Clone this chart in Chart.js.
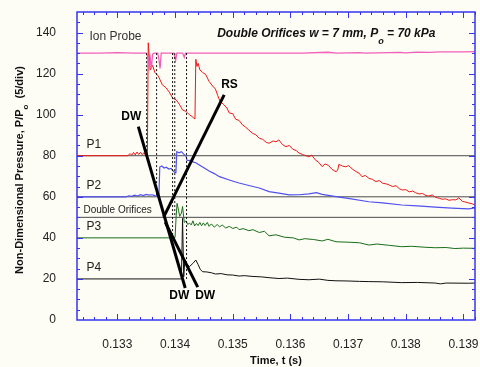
<!DOCTYPE html>
<html>
<head>
<meta charset="utf-8">
<script src="https://cdn.jsdelivr.net/npm/chart.js@4.4.1/dist/chart.umd.min.js"></script>
<style>
  html, body { margin: 0; padding: 0; background: #fdfdf6; }
  canvas { display: block; }
</style>
</head>
<body>
<canvas id="pressure-chart" width="480" height="367"></canvas>
<script>
// axis range and tick labels
const tMin = 0.1323, tMax = 0.1392;
const pMin = 0, pMax = 150;
const xTickValues = [0.133, 0.134, 0.135, 0.136, 0.137, 0.138, 0.139];
const yTickValues = [0, 20, 40, 60, 80, 100, 120, 140];

// ion probe trace (pink)
const ionT = [0.1323, 0.1327, 0.1330, 0.1333, 0.1335, 0.13353, 0.13355, 0.13357, 0.13359, 0.13361, 0.13364,
  0.1337, 0.13372, 0.13374, 0.13376, 0.13398, 0.13401, 0.13403, 0.13413, 0.13416, 0.13418, 0.1350, 0.1362,
  0.13665, 0.1368, 0.1372, 0.1373, 0.1379, 0.1380, 0.1382, 0.1384, 0.1386, 0.1390, 0.1392];
const ionP = [130, 130, 130.2, 130, 130, 128, 123, 127.5, 122.5, 129.5, 130,
  130, 127, 122.5, 130, 130, 126.5, 130, 130, 128, 130, 130, 130,
  130.4, 130, 130.2, 130, 130.3, 130.1, 130.5, 130.3, 130.6, 130.6, 130.7];

// P1 (red)
const p1T = [0.1323, 0.1330, 0.13318, 0.13322, 0.13325, 0.13328, 0.13331, 0.13334, 0.13337, 0.1334, 0.13343,
  0.13346, 0.13349, 0.13352, 0.133535, 0.13357, 0.13361, 0.13365, 0.13371, 0.13378, 0.13384, 0.1339, 0.13396,
  0.13402, 0.13408, 0.13413, 0.13419, 0.13425, 0.13429, 0.13433, 0.134345, 0.13436, 0.13438, 0.1344, 0.13443,
  0.13448, 0.13453, 0.13459, 0.13465, 0.1347, 0.13474, 0.13478, 0.13484, 0.1349, 0.13494, 0.135, 0.13505,
  0.13511, 0.13517, 0.13522, 0.13528, 0.13534, 0.1354, 0.13546, 0.13552, 0.13558, 0.13563, 0.1357, 0.13575,
  0.1358, 0.13586, 0.13592, 0.13598, 0.13604, 0.1361, 0.13615, 0.13621, 0.13627, 0.13632, 0.13637, 0.13643,
  0.13649, 0.13655, 0.1366, 0.13666, 0.13672, 0.13679, 0.13682, 0.13684, 0.1369, 0.13696, 0.13701, 0.13707,
  0.13713, 0.13719, 0.13724, 0.1373, 0.13736, 0.13742, 0.13748, 0.13754, 0.1376, 0.13766, 0.13771, 0.13777,
  0.13783, 0.13789, 0.13794, 0.138, 0.13806, 0.13812, 0.13817, 0.13823, 0.13829, 0.13835, 0.1384, 0.13846,
  0.13852, 0.13858, 0.13863, 0.13869, 0.13875, 0.13881, 0.13887, 0.13892, 0.13898, 0.13904, 0.13909, 0.13915, 0.1392];
const p1P = [80, 80, 80, 81, 80.3, 81.6, 80.4, 81.8, 80.6, 81.7, 80.5,
  81.5, 80.2, 80, 135, 121.8, 124, 120.6, 118.8, 114.5, 113.2, 111, 108,
  107.2, 104.8, 102.3, 101.6, 99.9, 99.2, 98.2, 98, 127, 123.5, 125, 121.8,
  120.5, 119.6, 116.2, 114, 112.5, 109.3, 106.5, 105, 103.2, 100.8, 100.5, 97.8,
  97.2, 95, 94, 92.5, 91, 90.2, 88.5, 88, 86.5, 86.1, 87.2, 86.8,
  87.7, 85.5, 84.4, 85, 83.2, 82.5, 81.3, 80.6, 80, 79.5, 80.3, 78,
  76.8, 74.7, 76, 75.3, 73.4, 72.2, 73, 75.8, 75, 74.6, 75.2, 73.6,
  72.4, 71.5, 69.8, 70.4, 69, 68.5, 67.4, 67.9, 66.6, 66.3, 65.8, 65,
  65.4, 63.9, 63.3, 63.5, 62.4, 62.8, 62, 61.4, 61.6, 60.6, 60.4, 60.9,
  59.7, 59.3, 58.8, 59, 58.3, 58.6, 58.5, 59.5, 57.8, 57.4, 57, 56.6, 56];

// P2 (blue)
const p2T = [0.1323, 0.13315, 0.1332, 0.13325, 0.1333, 0.13335, 0.1334, 0.13345, 0.1335, 0.13355, 0.1336,
  0.13365, 0.13372, 0.133735, 0.13377, 0.13381, 0.13385, 0.13389, 0.13393, 0.13397, 0.134, 0.134015, 0.13403,
  0.13407, 0.13411, 0.13415, 0.13419, 0.13421, 0.13426, 0.13432, 0.13436, 0.13442, 0.1345, 0.13459, 0.13468,
  0.13477, 0.13494, 0.13511, 0.13528, 0.13546, 0.13563, 0.1358, 0.13598, 0.13615, 0.13632, 0.13645, 0.13655,
  0.13679, 0.137, 0.13736, 0.1376, 0.13793, 0.1382, 0.13851, 0.1388, 0.13909, 0.1392];
const p2P = [60, 60, 60.5, 60.2, 60.8, 60.4, 61, 60.6, 61.2, 60.8, 61,
  60.6, 60.2, 74.5, 75, 74, 74.4, 73.5, 73.8, 72.5, 71.8, 72, 82,
  81.4, 82, 80.8, 79.8, 77.6, 77.8, 76.9, 76.6, 75.5, 74.1, 72.6, 71.3,
  69.8, 68.2, 66.7, 65.5, 64.3, 62.5, 61.8, 60.9, 61, 61.4, 62, 61.2,
  60.1, 59.2, 57.6, 57, 56, 55.6, 55, 54.5, 54.1, 54.6];

// P3 (green)
const p3T = [0.1323, 0.13396, 0.134, 0.13402, 0.134035, 0.13406, 0.13408, 0.13411, 0.13413, 0.13416, 0.13419,
  0.13422, 0.13425, 0.13428, 0.13431, 0.13434, 0.13437, 0.1344, 0.13443, 0.13446, 0.13449, 0.13452, 0.13456,
  0.13459, 0.13463, 0.13468, 0.13473, 0.13477, 0.13482, 0.13488, 0.13494, 0.135, 0.13507, 0.13511, 0.13518,
  0.13528, 0.13535, 0.13546, 0.13555, 0.13563, 0.13575, 0.1359, 0.13605, 0.13615, 0.13625, 0.1364, 0.13655,
  0.13665, 0.13679, 0.137, 0.1372, 0.13736, 0.1375, 0.1377, 0.13793, 0.1381, 0.13835, 0.13851, 0.1387,
  0.13885, 0.139, 0.1392];
const p3P = [40, 40, 40.2, 51, 56.8, 53.5, 50.5, 52, 55.3, 47.5, 48.3,
  46.5, 47.2, 46.3, 48.3, 45.8, 47, 46, 47.5, 45.9, 47.3, 46, 47.5,
  45.6, 46.8, 45.2, 46.5, 45.4, 46.2, 44.8, 45.6, 44.6, 45.2, 44, 44.5,
  43.5, 44, 42.6, 43.2, 41, 41.5, 40.3, 40, 39, 39.6, 39.2, 38.5,
  39.3, 38.1, 37.9, 37.6, 36.5, 37, 36.4, 35.7, 35.9, 35.4, 35.2, 35.3,
  34.8, 35, 34.9];

// P4 (black)
const p4T = [0.1323, 0.13411, 0.13413, 0.13415, 0.13417, 0.1342, 0.13425, 0.13431, 0.13436, 0.1344, 0.13444,
  0.13448, 0.13455, 0.13463, 0.1347, 0.1348, 0.1349, 0.135, 0.13511, 0.1352, 0.13535, 0.1355, 0.13563,
  0.1358, 0.13595, 0.13615, 0.13632, 0.1365, 0.13665, 0.13679, 0.137, 0.1372, 0.13736, 0.1376, 0.13793,
  0.1382, 0.13851, 0.1386, 0.1387, 0.13909, 0.1392];
const p4P = [20, 20, 49.5, 21, 29.2, 27.5, 26, 27.6, 29.2, 27, 24.5,
  23.5, 23.4, 23, 22.4, 22.6, 22, 21.9, 21.4, 21.6, 21.2, 21, 20.6,
  20.2, 20.4, 19.8, 19.6, 19.9, 19.3, 19.1, 19, 18.8, 18.7, 18.6, 18.2,
  18.3, 18, 17.6, 18, 17.9, 18];

// gauge reference levels (P1, P2, double orifices)
const refLevels = [80, 60, 50];

// dashed arrival markers: time, top, bottom
const dashT = [0.133507, 0.13368, 0.133957, 0.133995, 0.134199];
const dashTop = [130, 130, 130, 130, 130];
const dashBottom = [80, 60, 40, 50, 20];

// wave paths
const dwUpperT = [0.133363, 0.134176];
const dwUpperP = [94.2, 15.6];
const rsT = [0.133804, 0.134851];
const rsP = [50.2, 109.6];
const dwLowerT = [0.13383, 0.134393];
const dwLowerP = [47.7, 16];

const FONT = "'Liberation Sans', Arial, sans-serif";
const BG = '#fdfdf6';
const AXIS_BLUE = '#3535f0';

function pts(ts, ps) {
  return ts.map((t, i) => ({ x: t, y: ps[i] }));
}

function line(label, data, color, width, order, dash) {
  return {
    label: label,
    data: data,
    borderColor: color,
    borderWidth: width,
    borderDash: dash || [],
    pointRadius: 0,
    tension: 0,
    fill: false,
    order: order
  };
}

const datasets = [];
datasets.push(line('DW upper', pts(dwUpperT, dwUpperP), '#000', 3, 0));
datasets.push(line('RS', pts(rsT, rsP), '#000', 3, 0));
datasets.push(line('DW lower', pts(dwLowerT, dwLowerP), '#000', 3, 0));
datasets.push(line('Ion Probe', pts(ionT, ionP), '#f25fb8', 1.3, 2));
datasets.push(line('P1', pts(p1T, p1P), '#f01818', 1, 2));
datasets.push(line('P2', pts(p2T, p2P), '#5050f0', 1.2, 2));
datasets.push(line('P3', pts(p3T, p3P), '#1a6e1a', 1, 2));
datasets.push(line('P4', pts(p4T, p4P), '#111111', 1, 2));
dashT.forEach((t, i) => {
  datasets.push(line('marker ' + i, pts([t, t], [dashTop[i], dashBottom[i]]), '#111', 1, 1, [2, 2]));
});
refLevels.forEach(p => {
  datasets.push(line('level ' + p, pts([tMin, tMax], [p, p]), '#4a4a4a', 1, 3));
});

function drawText(ctx, text, x, y, font, color, align) {
  ctx.font = font;
  ctx.fillStyle = color;
  ctx.textAlign = align || 'left';
  ctx.textBaseline = 'middle';
  ctx.fillText(text, x, y);
}

// no extra room for overhanging tick labels, plot box is fixed
function fixBox(s, size) {
  if (s.isHorizontal()) s.height = size; else s.width = size;
  s.paddingLeft = 0; s.paddingRight = 0;
  s.paddingTop = 0; s.paddingBottom = 0;
}

const decorPlugin = {
  id: 'decor',
  beforeDraw(chart) {
    const ctx = chart.ctx;
    ctx.save();
    ctx.fillStyle = BG;
    ctx.fillRect(0, 0, chart.width, chart.height);
    ctx.restore();
  },
  afterDatasetsDraw(chart) {
    const ctx = chart.ctx;
    const xs = chart.scales.x, ys = chart.scales.y;
    const X = t => xs.getPixelForValue(t);
    const Y = p => ys.getPixelForValue(p);
    ctx.save();
    const plain = '12px ' + FONT;
    drawText(ctx, 'Ion Probe', X(0.132516), Y(137.8), plain, '#333');
    drawText(ctx, 'P1', X(0.132464), Y(85.2), plain, '#222');
    drawText(ctx, 'P2', X(0.132464), Y(65.3), plain, '#222');
    drawText(ctx, 'Double Orifices', X(0.132412), Y(53.6), '10px ' + FONT, '#222');
    drawText(ctx, 'P3', X(0.132464), Y(45.3), plain, '#222');
    drawText(ctx, 'P4', X(0.132464), Y(25.3), plain, '#222');
    const bold = 'bold 12px ' + FONT;
    drawText(ctx, 'DW', X(0.133069), Y(98.9), bold, '#000');
    drawText(ctx, 'RS', X(0.134799), Y(114.5), bold, '#000');
    drawText(ctx, 'DW', X(0.1339), Y(11.7), bold, '#000');
    drawText(ctx, 'DW', X(0.134349), Y(11.7), bold, '#000');

    // title with subscript
    const bi = 'italic bold 12px ' + FONT;
    let x = X(0.13473);
    const y = Y(139.3);
    const part1 = 'Double Orifices w = 7 mm, P';
    ctx.font = bi;
    drawText(ctx, part1, x, y, bi, '#111');
    x += ctx.measureText(part1).width;
    drawText(ctx, 'o', x, y + 8, 'italic bold 9px ' + FONT, '#111');
    ctx.font = 'italic bold 9px ' + FONT;
    x += ctx.measureText('o').width;
    drawText(ctx, ' = 70 kPa', x, y, bi, '#111');
    ctx.restore();
  },
  afterDraw(chart) {
    const ctx = chart.ctx;
    const a = chart.chartArea;
    const xs = chart.scales.x, ys = chart.scales.y;
    ctx.save();
    ctx.strokeStyle = AXIS_BLUE;
    ctx.lineWidth = 1;
    ctx.beginPath();
    // inner ticks, x every 0.0002, y every 5
    for (let k = 1324; k <= 1392; k += 2) {
      const t = k / 10000;
      const px = Math.round(xs.getPixelForValue(t)) + 0.5;
      const len = (k % 10 === 0) ? 6 : 3;
      ctx.moveTo(px, a.bottom); ctx.lineTo(px, a.bottom - len);
      ctx.moveTo(px, a.top); ctx.lineTo(px, a.top + len);
    }
    for (let p = 5; p < pMax; p += 5) {
      const py = Math.round(ys.getPixelForValue(p)) + 0.5;
      const len = (p % 20 === 0) ? 6 : 3;
      ctx.moveTo(a.left, py); ctx.lineTo(a.left + len, py);
      ctx.moveTo(a.right, py); ctx.lineTo(a.right - len, py);
    }
    ctx.stroke();
    ctx.lineWidth = 1.5;
    ctx.strokeRect(a.left, a.top, a.right - a.left, a.bottom - a.top);

    // x axis title
    drawText(ctx, 'Time, t (s)', (a.left + a.right) / 2, 361, 'bold 11px ' + FONT, '#111', 'center');

    // y axis title with subscript
    ctx.translate(20, 170);
    ctx.rotate(-Math.PI / 2);
    const bf = 'bold 11px ' + FONT;
    const sf = 'bold 8px ' + FONT;
    const s1 = 'Non-Dimensional Pressure, P/P';
    const s2 = 'o';
    const s3 = '  (5/div)';
    ctx.font = bf;
    const w1 = ctx.measureText(s1).width;
    const w3 = ctx.measureText(s3).width;
    ctx.font = sf;
    const w2 = ctx.measureText(s2).width;
    let x = -(w1 + w2 + w3) / 2;
    drawText(ctx, s1, x, 0, bf, '#111');
    drawText(ctx, s2, x + w1, 6, sf, '#111');
    drawText(ctx, s3, x + w1 + w2, 0, bf, '#111');
    ctx.restore();
  }
};

new Chart(document.getElementById('pressure-chart'), {
  type: 'line',
  data: { datasets: datasets },
  options: {
    responsive: false,
    animation: false,
    devicePixelRatio: 1,
    layout: { padding: { top: 12, right: 5, left: 0, bottom: 0 } },
    plugins: {
      legend: { display: false },
      tooltip: { enabled: false }
    },
    scales: {
      x: {
        type: 'linear',
        min: tMin,
        max: tMax,
        grid: { display: false },
        border: { display: false },
        afterBuildTicks: s => { s.ticks = xTickValues.map(v => ({ value: v })); },
        afterFit: s => fixBox(s, 47),
        ticks: {
          padding: 9,
          color: '#222',
          font: { family: FONT, size: 12 },
          maxRotation: 0,
          callback: v => v.toFixed(3)
        }
      },
      y: {
        min: pMin,
        max: pMax,
        grid: { display: false },
        border: { display: false },
        afterBuildTicks: s => { s.ticks = yTickValues.map(v => ({ value: v })); },
        afterFit: s => fixBox(s, 77),
        ticks: {
          padding: 13,
          color: '#222',
          font: { family: FONT, size: 12 }
        }
      }
    }
  },
  plugins: [decorPlugin]
});
</script>
</body>
</html>
